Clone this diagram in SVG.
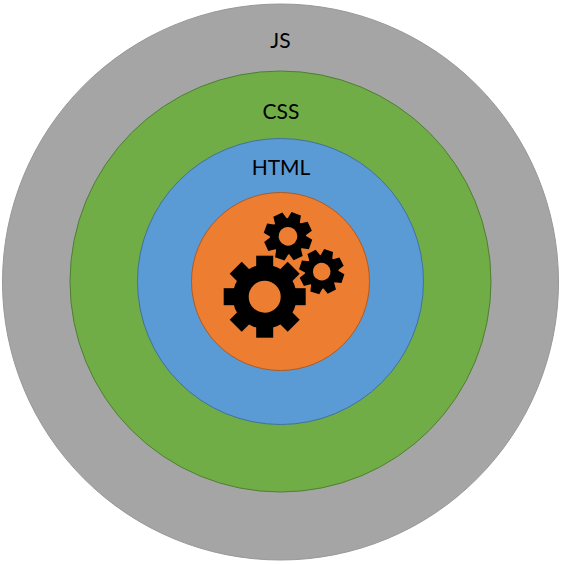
<svg xmlns="http://www.w3.org/2000/svg" xmlns:xlink="http://www.w3.org/1999/xlink" width="561" height="564" viewBox="0 0 561 564">
<style>
.ring{stroke-width:1}
.label{font-family:"Lato","Open Sans","Liberation Sans",sans-serif;font-size:21px;fill:#000;text-anchor:middle}
.gear{fill:#000}
.hole{fill:#ED7D31}
</style>
<defs>
<g id="bigGear">
<circle r="32"/>
<g id="bigPair"><rect x="-8.5" y="-41" width="17" height="82"/><rect x="-8.5" y="-41" width="17" height="82" transform="rotate(90)"/></g>
<use xlink:href="#bigPair" href="#bigPair" transform="rotate(45)"/>
</g>
<g id="smallGear">
<circle r="18"/>
<g id="smallPair"><path d="M-5-24H5L7,-14H-7ZM-5,24H5L7,14H-7Z"/><path d="M-5-24H5L7,-14H-7ZM-5,24H5L7,14H-7Z" transform="rotate(90)"/></g>
<use xlink:href="#smallPair" href="#smallPair" transform="rotate(45)"/>
</g>
</defs>
<g id="connectors"/>
<g id="node-js">
<circle class="ring" cx="280.5" cy="282" r="278" fill="#A5A5A5" stroke="#989898"/>
<text class="label" x="280.5" y="48">JS</text>
</g>
<g id="node-css">
<circle class="ring" cx="280.5" cy="281.5" r="210.5" fill="#70AD47" stroke="#507E32"/>
<text class="label" x="281" y="119">CSS</text>
</g>
<g id="node-html">
<circle class="ring" cx="280.5" cy="281.5" r="143" fill="#5B9BD5" stroke="#41719C"/>
<text class="label" x="281" y="175">HTML</text>
</g>
<g id="node-core">
<circle class="ring" cx="280.5" cy="281.5" r="89" fill="#ED7D31" stroke="#AE5A21"/>
<g id="gear-large" class="gear" transform="translate(264.7 296.7)"><use xlink:href="#bigGear" href="#bigGear"/><circle class="hole" r="16"/></g>
<g id="gear-top" class="gear" transform="translate(288 236.3) rotate(20)"><use xlink:href="#smallGear" href="#smallGear"/><circle class="hole" r="9.3"/></g>
<g id="gear-right" class="gear" transform="translate(321.7 271.7) rotate(18) scale(.93)"><use xlink:href="#smallGear" href="#smallGear"/><circle class="hole" r="9.5"/></g>
</g>
</svg>
